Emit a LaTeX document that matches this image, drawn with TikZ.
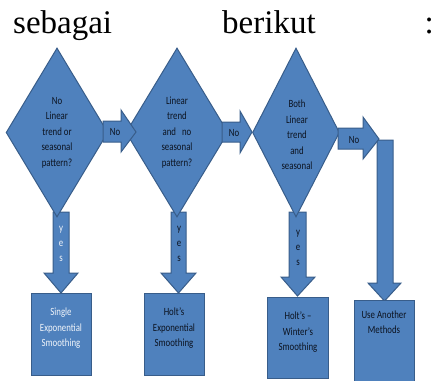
\documentclass[tikz,border=0pt]{standalone}
\usepackage{fontspec}
\setmainfont{Liberation Serif}
\newfontfamily\diagfont[FakeStretch=0.8]{Carlito}
\usetikzlibrary{shapes.geometric}
\definecolor{boxfill}{HTML}{4F81BD}
\definecolor{boxline}{HTML}{385D8A}
\definecolor{txtdark}{HTML}{0C1320}
\tikzset{
  blk/.style={fill=boxfill,draw=boxline,line width=1pt,line join=miter},
  dia/.style={blk,diamond,inner sep=0pt,text=txtdark,align=center,
    font=\diagfont\fontsize{11}{15.5}\selectfont},
  rbox/.style={blk,rectangle,inner sep=0pt,anchor=north west},
  lbl/.style={text=txtdark,font=\diagfont\fontsize{11}{15.5}\selectfont,align=center,inner sep=0pt},
  head/.style={font=\fontsize{33}{36}\selectfont,inner sep=0pt,anchor=base}
}
\begin{document}
\begin{tikzpicture}[x=1pt,y=-1pt]
\useasboundingbox (0,0) rectangle (435,380);
% heading
\node[head,anchor=base west] (w1) at (13,33) {sebagai};
\node[head,anchor=base west] (w2) at (222,33) {berikut};
\node[head,anchor=base east] (w3) at (434,33) {:};
% yes arrows (behind diamonds)
\draw[blk] (53,212) -- (69,212) -- (69,273) -- (78,273) -- (61,293) -- (44,273) -- (53,273) -- cycle;
\draw[blk] (171,212) -- (186,212) -- (186,273) -- (196,273) -- (178.5,293) -- (161,273) -- (171,273) -- cycle;
\draw[blk] (289,212) -- (306,212) -- (306,277) -- (315,277) -- (297.5,296) -- (281,277) -- (289,277) -- cycle;
% diamonds
\node[dia,minimum width=92pt,minimum height=169pt] (d1) at (57,132.5) {No\\Linear\\trend or\\seasonal\\pattern?};
\node[dia,minimum width=88pt,minimum height=169pt] (d2) at (177,132.5) {Linear\\trend\\and\ \ \ no\\seasonal\\pattern?};
\node[dia,minimum width=87pt,minimum height=169pt] (d3) at (296,132.5) {};
\node[lbl] (d3t) at (297,135) {Both\\Linear\\trend\\and\\seasonal};
% right vertical arrow
\draw[blk] (377,140) -- (393,140) -- (393,283) -- (401,283) -- (384.5,301) -- (368,283) -- (377,283) -- cycle;
% horizontal No arrows
\draw[blk] (103,121) -- (121,121) -- (121,110) -- (136,132) -- (121,152) -- (121,142) -- (103,142) -- cycle;
\draw[blk] (222,122) -- (240,122) -- (240,111) -- (252,132) -- (240,153) -- (240,142) -- (222,142) -- cycle;
\draw[blk] (338,128) -- (363,128) -- (363,117) -- (379,139) -- (363,159) -- (363,149) -- (338,149) -- cycle;
\node[lbl] (n1) at (115,132) {No};
\node[lbl] (n2) at (234,133) {No};
\node[lbl] (n3) at (354,140) {No};
% yes labels
\node[lbl,text=white!92!boxfill] (y1) at (61,244) {y\\[-0.5pt]e\\[-0.5pt]s};
\node[lbl] (y2) at (179,244) {y\\[-0.5pt]e\\[-0.5pt]s};
\node[lbl] (y3) at (298,248) {y\\[-0.5pt]e\\[-0.5pt]s};
% result boxes
\node[rbox,minimum width=60pt,minimum height=82pt] (b1) at (31,293) {};
\node[rbox,minimum width=60pt,minimum height=82pt] (b2) at (144,293) {};
\node[rbox,minimum width=61pt,minimum height=81pt] (b3) at (267,297) {};
\node[rbox,minimum width=60pt,minimum height=84pt] (b4) at (354,300) {};
\node[lbl,text=white!92!boxfill] (b1t) at (61,328.5) {Single\\Exponential\\Smoothing};
\node[lbl] (b2t) at (174,328.5) {Holt’s\\Exponential\\Smoothing};
\node[lbl] (b3t) at (298,332.5) {Holt’s –\\Winter’s\\Smoothing};
\node[lbl] (b4t) at (384,322) {Use Another\\Methods};
\end{tikzpicture}
\end{document}
